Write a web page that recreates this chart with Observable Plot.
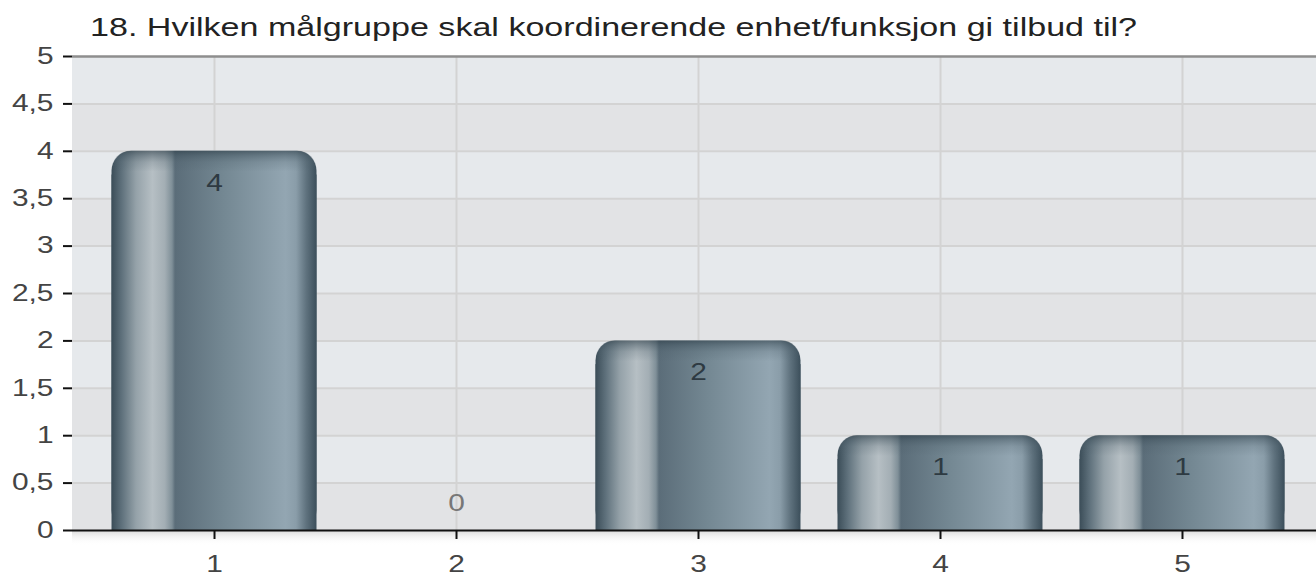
<!DOCTYPE html>
<html><head><meta charset="utf-8">
<script src="https://cdn.jsdelivr.net/npm/d3@7"></script>
<script src="https://cdn.jsdelivr.net/npm/@observablehq/plot@0.6"></script>
<style>
body{margin:0;background:#fff;font-family:"Liberation Sans",Arial,sans-serif;}
#wrap{position:relative;width:1316px;height:578px;overflow:hidden;background:#fff}
#title{position:absolute;left:90px;top:12px;font-size:26px;line-height:30px;color:#222;transform:scaleX(1.31);transform-origin:0 0;white-space:nowrap}
#chart{position:absolute;left:0;top:48px}
</style></head><body>
<div id="wrap"><div id="title"></div><div id="chart"></div></div>
<script>
const titleText = "18. Hvilken målgruppe skal koordinerende enhet/funksjon gi tilbud til?";
const categories = ["1", "2", "3", "4", "5"];
const counts = [4, 0, 2, 1, 1];
const yTicks = [0, 0.5, 1, 1.5, 2, 2.5, 3, 3.5, 4, 4.5, 5];

document.getElementById("title").textContent = titleText;

const data = categories.map((c, i) => ({cat: c, n: counts[i]}));
const nonZero = data.filter(d => d.n > 0);
const zero = data.filter(d => d.n === 0);
const fmt = d => String(d).replace(".", ",");

const svg = Plot.plot({
  width: 1316,
  height: 530,
  marginTop: 8,
  marginBottom: 48,
  marginLeft: 72,
  marginRight: 0,
  style: {fontFamily: "'Liberation Sans', Arial, sans-serif", background: "transparent", overflow: "visible"},
  x: {domain: categories, range: [74.5, 1321.5], padding: 0.153, round: false, label: null},
  y: {domain: [0, 5], label: null},
  marks: [
    // background stripes
    Plot.rect(yTicks.slice(0, -1).filter(t => t % 1 === 0), {y1: d => d, y2: d => d + 0.5, fill: "#e2e3e5"}),
    Plot.rect(yTicks.slice(0, -1).filter(t => t % 1 !== 0), {y1: d => d, y2: d => d + 0.5, fill: "#e6e9ec"}),
    // floor shadow
    Plot.rect([0], {y1: () => 0, y2: () => -0.16, fill: "url(#floorShade)"}),
    // grid
    Plot.ruleY(yTicks.filter(t => t > 0 && t < 5), {stroke: "#d3d3d3", strokeWidth: 2}),
    Plot.ruleX(categories, {x: d => d, stroke: "#d3d3d3", strokeWidth: 2}),
    Plot.ruleY([5], {stroke: "#8e8e8e", strokeWidth: 2.5}),
    // bars
    Plot.barY(nonZero, {x: "cat", y: "n", fill: "url(#barGrad)", rx: 20}),
    Plot.barY(nonZero, {x: "cat", y1: () => 0, y2: d => d.n - 0.25, fill: "url(#barGrad)"}),
    Plot.barY(nonZero, {x: "cat", y1: d => d.n - 0.4, y2: "n", fill: "url(#topShade)", rx: 19}),
    // value labels
    Plot.text(nonZero, {x: "cat", y: "n", text: d => String(d.n), dy: 32, fontSize: 23, fill: "#2e3a42"}),
    Plot.text(zero, {x: "cat", y: "n", text: d => String(d.n), dy: -27, fontSize: 23, fill: "#777"}),
    // axes
    Plot.ruleY([0], {stroke: "#111", strokeWidth: 2}),
    Plot.axisY({ticks: yTicks, tickFormat: fmt, tickSize: 9, tickPadding: 10, fontSize: 23, fill: "#444", stroke: "#111", strokeWidth: 2, line: true, label: null}),
    Plot.axisX({tickSize: 9, tickPadding: 16, fontSize: 23, fill: "#444", stroke: "#111", strokeWidth: 2, label: null})
  ]
});

// gradient definitions
const NS = "http://www.w3.org/2000/svg";
const defs = document.createElementNS(NS, "defs");
function grad(id, vertical, stops) {
  const g = document.createElementNS(NS, "linearGradient");
  g.setAttribute("id", id);
  g.setAttribute("x1", "0"); g.setAttribute("y1", "0");
  g.setAttribute("x2", vertical ? "0" : "1"); g.setAttribute("y2", vertical ? "1" : "0");
  for (const [o, c, a] of stops) {
    const s = document.createElementNS(NS, "stop");
    s.setAttribute("offset", o);
    s.setAttribute("stop-color", c);
    s.setAttribute("stop-opacity", a == null ? 1 : a);
    g.appendChild(s);
  }
  defs.appendChild(g);
}
grad("barGrad", false, [
  [0, "#3b4d58"], [0.05, "#5f717c"], [0.12, "#95a2a9"], [0.2, "#b6bfc4"],
  [0.26, "#a3aeb4"], [0.295, "#7f8f98"], [0.31, "#5b6d79"], [0.55, "#748893"],
  [0.85, "#93a6b2"], [0.9, "#8a9da9"], [0.95, "#5f727e"], [1, "#3c4f5b"]
]);
grad("topShade", true, [
  [0, "#2a3a44", 0.6], [0.12, "#3a4c57", 0.45], [0.3, "#4a5c67", 0.2], [0.55, "#4a5c67", 0]
]);
grad("floorShade", true, [
  [0, "#d8d8d8", 1], [1, "#ffffff", 0]
]);
svg.insertBefore(defs, svg.firstChild);

document.getElementById("chart").appendChild(svg);

// horizontal stretch of texts to match reference typography
svg.querySelectorAll("text").forEach(t => {
  const tr = t.getAttribute("transform");
  if (tr) t.setAttribute("transform", tr + " scale(1.3,1)");
  else {
    const x = parseFloat(t.getAttribute("x")) || 0;
    t.setAttribute("transform", `translate(${x},0) scale(1.3,1) translate(${-x},0)`);
  }
});
</script>
</body></html>
